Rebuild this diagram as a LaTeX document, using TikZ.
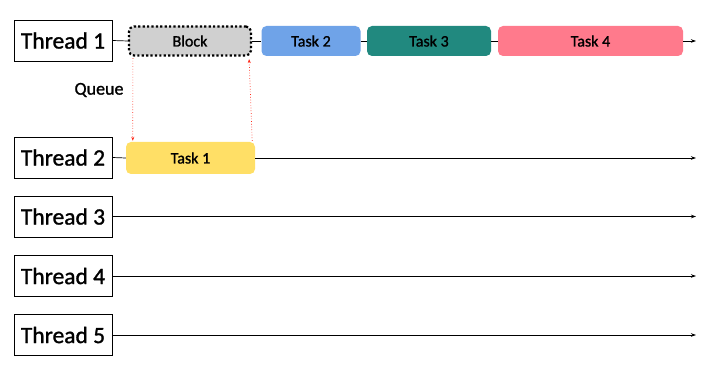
\documentclass[tikz,border=0pt]{standalone}
\usepackage{fontspec}
\setmainfont{Carlito}[FakeBold=1.2]
\usetikzlibrary{arrows.meta,calc}
\definecolor{blockgray}{HTML}{D0D0D0}
\definecolor{taskblue}{HTML}{6FA3E8}
\definecolor{taskteal}{HTML}{21897F}
\definecolor{taskpink}{HTML}{FF7A8C}
\definecolor{taskyellow}{HTML}{FFDF66}
\definecolor{queuered}{HTML}{FF2A1A}
\tikzset{
  thread/.style={draw=black, line width=0.8pt, minimum width=98pt, minimum height=41pt, inner sep=0pt, font=\fontsize{23.5}{23.5}\selectfont},
  taskbox/.style={rounded corners=5pt, minimum height=30pt, inner sep=0pt, font=\fontsize{16}{16}\selectfont},
  timeline/.style={line width=0.7pt, -{Stealth[length=5pt,width=3.5pt]}},
  link/.style={line width=0.7pt},
  queuearrow/.style={draw=queuered, line width=0.7pt, dotted, -{Stealth[length=4pt,width=3pt]}}
}
\begin{document}
\begin{tikzpicture}[x=1pt,y=-1pt]
\useasboundingbox (0,0) rectangle (726,379);
% thread boxes
\node[thread] (t1) at (63,40.5) {Thread 1};
\node[thread] (t2) at (63,157.5) {Thread 2};
\node[thread] (t3) at (63,216.5) {Thread 3};
\node[thread] (t4) at (63,276) {Thread 4};
\node[thread] (t5) at (63,335) {Thread 5};
% tasks
\node[taskbox, fill=blockgray, draw=black, line width=2.2pt, dash pattern=on 2.2pt off 2.2pt, minimum width=122pt, minimum height=29pt] (block) at (190,41) {Block};
\node[taskbox, fill=taskblue, minimum width=99pt] (task2) at (311,41) {Task 2};
\node[taskbox, fill=taskteal, minimum width=124pt] (task3) at (429,41) {Task 3};
\node[taskbox, fill=taskpink, minimum width=185pt] (task4) at (590.5,41) {Task 4};
\node[taskbox, fill=taskyellow, minimum width=129pt, minimum height=32pt] (task1) at (190.5,158) {Task 1};
% ends
\coordinate (e1) at (696,41);
\coordinate (e2) at (696,158);
\coordinate (e3) at (696,216.5);
\coordinate (e4) at (696,276);
\coordinate (e5) at (696,335);
% thread 1 line
\draw[link] (t1.east) -- (block.west);
\draw[link] (block.east) -- (task2.west);
\draw[link] (task2.east) -- (task3.west);
\draw[link] (task3.east) -- (task4.west);
\draw[timeline] (task4.east) -- (e1);
% thread 2
\draw[link] (t2.east) -- (task1.west);
\draw[timeline] (task1.east) -- (e2);
% others
\draw[timeline] (t3.east) -- (e3);
\draw[timeline] (t4.east) -- (e4);
\draw[timeline] (t5.east) -- (e5);
% queue
\node[font=\fontsize{18}{18}\selectfont] (queue) at (99,90) {Queue};
\draw[queuearrow] ($(block.south west)+(5,1.5)$) -- ($(task1.north west)+(7,-1)$);
\draw[queuearrow] ($(task1.north east)+(-3,-1)$) -- ($(block.south east)+(-3,2.5)$);
\end{tikzpicture}
\end{document}
